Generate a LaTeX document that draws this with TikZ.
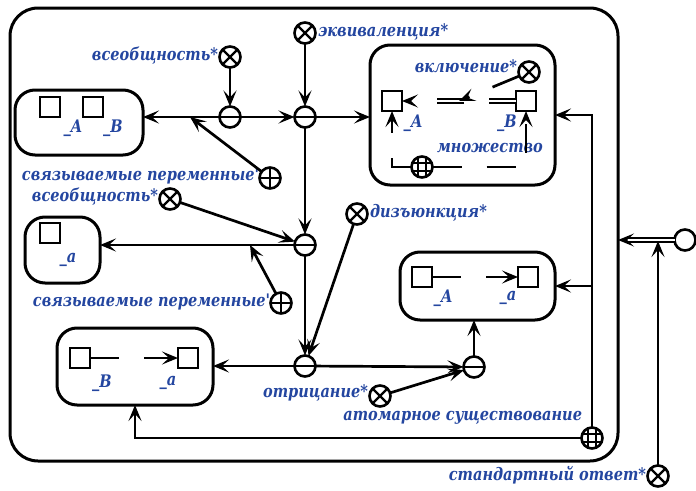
\documentclass[tikz,border=0pt]{standalone}
\usepackage{fontspec}
\setmainfont{DejaVu Serif}
\newfontfamily\lblfont[FakeStretch=0.84]{DejaVu Serif}
\usetikzlibrary{arrows.meta,calc}
\definecolor{lblue}{RGB}{36,70,160}
\begin{document}
\begin{tikzpicture}[x=1pt,y=-1pt,
  every node/.style={inner sep=0pt,outer sep=0pt},
  ln/.style={line width=2.7pt},
  arr/.style={ln,-{Stealth[length=16pt,width=13pt,inset=7pt]}},
  dsh/.style={dash pattern=on 29pt off 25pt},
  dbl/.style={line width=1.5pt,double=white,double distance=2.6pt},
  box/.style={draw,line width=3pt,rounded corners=20pt},
  sq/.style={draw,line width=2.6pt,minimum size=20pt},
  cnode/.style={circle,draw,line width=2.6pt,minimum size=21pt},
  tup/.style={cnode,path picture={\draw[line width=2.4pt] (path picture bounding box.west) -- (path picture bounding box.east);}},
  vx/.style={cnode,path picture={\draw[line width=2.4pt] (path picture bounding box.north west) -- (path picture bounding box.south east) (path picture bounding box.south west) -- (path picture bounding box.north east);}},
  pl/.style={cnode,path picture={\draw[line width=2.4pt] (path picture bounding box.west) -- (path picture bounding box.east) (path picture bounding box.north) -- (path picture bounding box.south);}},
  grd/.style={cnode,path picture={\draw[line width=1.8pt]
     ([xshift=-3.8pt]path picture bounding box.north) -- ([xshift=-3.8pt]path picture bounding box.south)
     ([xshift=3.8pt]path picture bounding box.north) -- ([xshift=3.8pt]path picture bounding box.south)
     ([yshift=-3.8pt]path picture bounding box.west) -- ([yshift=-3.8pt]path picture bounding box.east)
     ([yshift=3.8pt]path picture bounding box.west) -- ([yshift=3.8pt]path picture bounding box.east);}},
  lbl/.style={text=lblue,font=\lblfont\bfseries\itshape\fontsize{17.3}{18}\selectfont}
]
\useasboundingbox (0,0) rectangle (696,490);
% outer contour
\node[box,line width=3pt,rounded corners=28pt,minimum width=608pt,minimum height=453pt] (outer) at (314,234.5) {};
% boxes
\node[box,minimum width=128pt,minimum height=65pt] (bAB) at (79,122.5) {};
\node[box,minimum width=75pt,minimum height=66pt] (ba) at (62.5,250) {};
\node[box,minimum width=156pt,minimum height=77pt] (bBa) at (135,366.5) {};
\node[box,minimum width=155pt,minimum height=68pt] (bAa) at (477.5,286) {};
\node[box,minimum width=185pt,minimum height=140pt] (inc) at (462.5,115) {};
% squares
\node[sq] (sA1) at (50,107) {};
\node[sq] (sB1) at (93,107) {};
\node[lbl] at (73,128) {\_A};
\node[lbl] at (113,128) {\_B};
\node[sq] (sa2) at (50,233) {};
\node[lbl] at (68,260) {\_a};
\node[sq] (sB3) at (80,358) {};
\node[sq] (sa3) at (188,358) {};
\node[lbl] at (102,383) {\_B};
\node[lbl] at (168,383) {\_a};
\node[sq] (sA4) at (422,277) {};
\node[sq] (sa4) at (528,277) {};
\node[lbl] at (443,298) {\_A};
\node[lbl] at (508,298) {\_a};
\node[sq] (sA5) at (392,101) {};
\node[sq] (sB5) at (526,101) {};
\node[lbl] at (413,123) {\_A};
\node[lbl] at (507,123) {\_B};
% circles
\node[vx] (eq) at (305,33) {};
\node[lbl,anchor=west] at (318,32) {эквиваленция*};
\node[vx] (u1) at (230,57) {};
\node[lbl,anchor=east] at (218,56) {всеобщность*};
\node[tup] (m1) at (230,117) {};
\node[tup] (m2) at (305,117) {};
\node[pl] (p1) at (270,178) {};
\node[lbl,anchor=east] at (259,176) {связываемые переменные'};
\node[vx] (u2) at (170,199) {};
\node[lbl,anchor=east] at (158,197) {всеобщность*};
\node[tup] (m3) at (305,245) {};
\node[pl] (p2) at (281,303) {};
\node[lbl,anchor=east] at (270,302) {связываемые переменные'};
\node[vx] (dj) at (357,214) {};
\node[lbl,anchor=west] at (370,213) {дизъюнкция*};
\node[tup] (m4) at (305,366) {};
\node[tup] (m5) at (474,367) {};
\node[vx] (ng) at (380,396) {};
\node[lbl,anchor=east] at (368,393) {отрицание*};
\node[grd] (at) at (592,438) {};
\node[lbl,anchor=east] at (582,418) {атомарное существование};
\node[vx] (sd) at (658,476) {};
\node[lbl,anchor=east] at (646,475) {стандартный ответ*};
\node[cnode] (oc) at (685,240) {};
\node[vx] (ic) at (529,72) {};
\node[lbl,anchor=east] at (517,66) {включение*};
\node[grd] (st) at (422,167) {};
\node[lbl] at (490,148) {множество};
% junctions
\coordinate (j1) at (190,117);
\coordinate (j2) at (250,245);
\coordinate (j3) at (sd |- oc);
\coordinate (im) at ($(sA5)!0.5!(sB5)$);
% connectors
\draw[arr] (eq) -- (m2);
\draw[arr] (u1) -- (m1);
\draw[arr] (m1) -- (m1 -| bAB.east);
\draw[arr] (m1) -- (m2);
\draw[arr] (m2) -- (m2 -| inc.west);
\draw[arr] (p1) -- (j1);
\draw[arr] (m2) -- (m3);
\draw[arr] (u2) -- (m3);
\draw[arr] (m3) -- (m3 -| ba.east);
\draw[arr] (p2) -- (j2);
\draw[arr] (m3) -- (m4);
\draw[arr] (dj) -- (m4);
\draw[arr] (m4) -- (m4 -| bBa.east);
\draw[arr] (m4) -- (m5);
\draw[arr] (ng) -- (m5);
\draw[arr] (m5) -- (m5 |- bAa.south);
\draw[arr] (at) |- (inc.east);
\draw[arr] (at) |- (bAa.east);
\draw[arr] (at) -| (bBa.south);
\draw[arr,dbl] (oc) -- (oc -| outer.east);
\draw[arr,shorten >=1pt] (sd) -- (j3);
% inner arcs
\draw[arr,dsh] (sB3) -- (sa3);
\draw[arr,dsh] (sA4) -- (sa4);
\draw[arr,dbl,dash pattern=on 27pt off 25pt] (sB5) -- (sA5);
\draw[arr,dsh] (ic) -- (im);
\draw[arr,dsh] (st) -| (sA5);
\draw[arr,dsh] (st) -| (sB5);
\end{tikzpicture}
\end{document}
